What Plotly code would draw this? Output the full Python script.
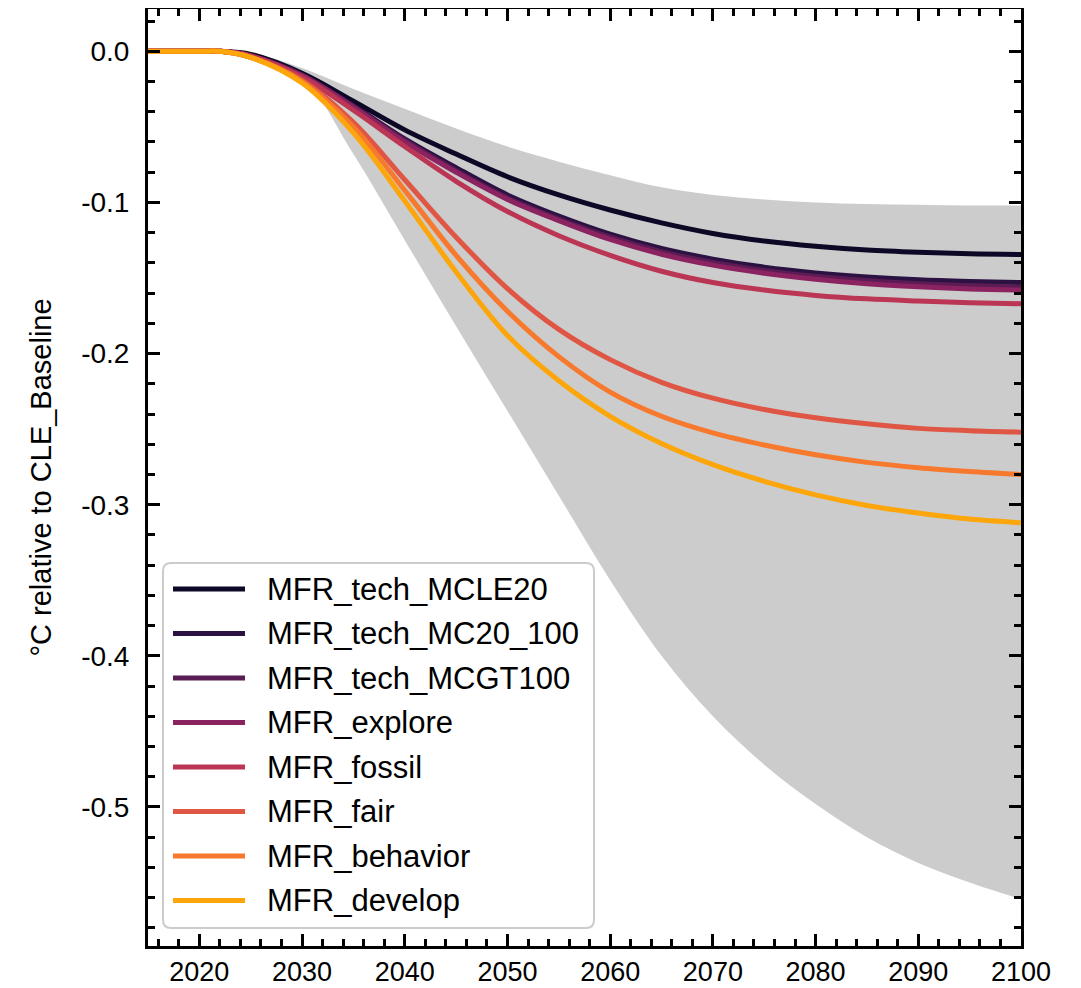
import plotly.graph_objects as go

years = [2015, 2020, 2022, 2025, 2030, 2035, 2040, 2045, 2050, 2055, 2060,
         2065, 2070, 2075, 2080, 2085, 2090, 2095, 2100]

band_upper = [0, 0, 0, -0.001, -0.011, -0.025, -0.038, -0.051, -0.063, -0.073, -0.082,
              -0.090, -0.095, -0.098, -0.100, -0.101, -0.1015, -0.102, -0.102]
band_lower = [0, 0, 0, -0.005, -0.018, -0.068, -0.125, -0.182, -0.238, -0.294, -0.350,
              -0.400, -0.440, -0.472, -0.498, -0.520, -0.537, -0.550, -0.561]

names = ["MFR_tech_MCLE20", "MFR_tech_MC20_100", "MFR_tech_MCGT100", "MFR_explore",
         "MFR_fossil", "MFR_fair", "MFR_behavior", "MFR_develop"]
colors = ["#0c0826", "#2b1242", "#5b1c55", "#8b2361", "#bb3654", "#e05644", "#f6792d", "#fca60c"]

mcle20 = [0, 0, 0, -0.002, -0.0145, -0.033, -0.052, -0.068, -0.083, -0.095, -0.105,
          -0.1135, -0.1205, -0.1255, -0.129, -0.1315, -0.133, -0.134, -0.1345]
mc20_100 = [0, 0, 0, -0.003, -0.0155, -0.036, -0.058, -0.077, -0.095, -0.109, -0.121,
            -0.1305, -0.1375, -0.1428, -0.1466, -0.1493, -0.1512, -0.1523, -0.153]
mcgt100 = [0, 0, 0, -0.003, -0.016, -0.0365, -0.059, -0.079, -0.097, -0.111, -0.123,
           -0.1325, -0.1397, -0.145, -0.1489, -0.1518, -0.1538, -0.155, -0.156]
explore = [0, 0, 0, -0.003, -0.016, -0.037, -0.060, -0.080, -0.098, -0.112, -0.1245,
           -0.1343, -0.1415, -0.1468, -0.1508, -0.1538, -0.1558, -0.1572, -0.158]
fossil = [0, 0, 0, -0.003, -0.017, -0.039, -0.063, -0.086, -0.106, -0.122, -0.135,
          -0.1455, -0.153, -0.158, -0.1615, -0.1638, -0.1652, -0.1663, -0.167]
fair = [0, 0, 0, -0.004, -0.019, -0.047, -0.085, -0.123, -0.157, -0.184, -0.204,
        -0.219, -0.2295, -0.237, -0.2425, -0.2465, -0.2495, -0.251, -0.252]
behavior = [0, 0, 0, -0.004, -0.020, -0.050, -0.092, -0.135, -0.172, -0.202, -0.2255,
            -0.2415, -0.2525, -0.2605, -0.267, -0.272, -0.2755, -0.278, -0.280]
develop = [0, 0, 0, -0.004, -0.021, -0.054, -0.099, -0.146, -0.188, -0.218, -0.2415,
           -0.2595, -0.2735, -0.2845, -0.2935, -0.3005, -0.3055, -0.3095, -0.312]

series = [mcle20, mc20_100, mcgt100, explore, fossil, fair, behavior, develop]

y_ticks = [0.0, -0.1, -0.2, -0.3, -0.4, -0.5]
y_ticktext = ["0.0", "-0.1", "-0.2", "-0.3", "-0.4", "-0.5"]
x_ticks = [2020, 2030, 2040, 2050, 2060, 2070, 2080, 2090, 2100]

FONT = "Liberation Sans, Arial, sans-serif"

# figure geometry (pixels)
W, H = 1073, 980
ML, MT, PW, PH = 140, 1, 873, 937
MR, MB = W - ML - PW, H - MT - PH


def px(x):
    return (x - ML) / PW


def py(y):
    return (MT + PH - y) / PH


fig = go.Figure()

fig.add_trace(go.Scatter(x=years, y=band_upper, mode="lines", line=dict(width=0, shape="spline"),
                         showlegend=False, hoverinfo="skip"))
fig.add_trace(go.Scatter(x=years, y=band_lower, mode="lines", line=dict(width=0, shape="spline"),
                         fill="tonexty", fillcolor="#cccccc", showlegend=False, hoverinfo="skip"))

for name, col, vals in zip(names, colors, series):
    fig.add_trace(go.Scatter(x=years, y=vals, mode="lines", name=name, showlegend=False,
                             line=dict(color=col, width=5, shape="spline")))

# legend drawn as a framed box (matplotlib style)
bx0, bx1, by0, by1, r = 155, 586, 555, 920, 8
path = (f"M {px(bx0 + r)},{py(by0)} L {px(bx1 - r)},{py(by0)} "
        f"Q {px(bx1)},{py(by0)} {px(bx1)},{py(by0 + r)} L {px(bx1)},{py(by1 - r)} "
        f"Q {px(bx1)},{py(by1)} {px(bx1 - r)},{py(by1)} L {px(bx0 + r)},{py(by1)} "
        f"Q {px(bx0)},{py(by1)} {px(bx0)},{py(by1 - r)} L {px(bx0)},{py(by0 + r)} "
        f"Q {px(bx0)},{py(by0)} {px(bx0 + r)},{py(by0)} Z")
shapes = [dict(type="path", xref="paper", yref="paper", path=path,
               fillcolor="rgba(255,255,255,0.8)", line=dict(color="#cccccc", width=2), layer="above")]
annotations = []
for i, (name, col) in enumerate(zip(names, colors)):
    yc = 581 + 44.5 * i
    shapes.append(dict(type="line", xref="paper", yref="paper", x0=px(165), x1=px(237),
                       y0=py(yc), y1=py(yc), line=dict(color=col, width=5), layer="above"))
    annotations.append(dict(x=px(257), y=py(yc), xref="paper", yref="paper", text=name,
                            showarrow=False, xanchor="left", yanchor="middle",
                            font=dict(family=FONT, size=31, color="black")))

axis_common = dict(showline=True, linewidth=3, linecolor="black", mirror="allticks",
                   ticks="inside", ticklen=12, tickwidth=3, tickcolor="black",
                   showgrid=False, zeroline=False, automargin=False)

fig.update_xaxes(range=[2015, 2100], tickvals=x_ticks, ticklabelstandoff=0,
                 tickfont=dict(family=FONT, size=27, color="black"),
                 minor=dict(dtick=2, tick0=2016, ticks="inside", ticklen=7, tickwidth=3,
                            tickcolor="black", showgrid=False),
                 **axis_common)
fig.update_yaxes(range=[-0.592, 0.028], tickvals=y_ticks, ticktext=y_ticktext, ticklabelstandoff=10,
                 tickfont=dict(family=FONT, size=28, color="black"),
                 minor=dict(dtick=0.02, tick0=0, ticks="inside", ticklen=7, tickwidth=3,
                            tickcolor="black", showgrid=False),
                 title=dict(text="°C relative to CLE_Baseline", standoff=22,
                            font=dict(family=FONT, size=29, color="black")),
                 **axis_common)

fig.update_layout(
    width=W, height=H,
    margin=dict(l=ML, r=MR, t=MT, b=MB),
    plot_bgcolor="white", paper_bgcolor="white",
    font=dict(family=FONT, size=28, color="black"),
    shapes=shapes, annotations=annotations,
    showlegend=False,
)

fig.write_html("out.html")
